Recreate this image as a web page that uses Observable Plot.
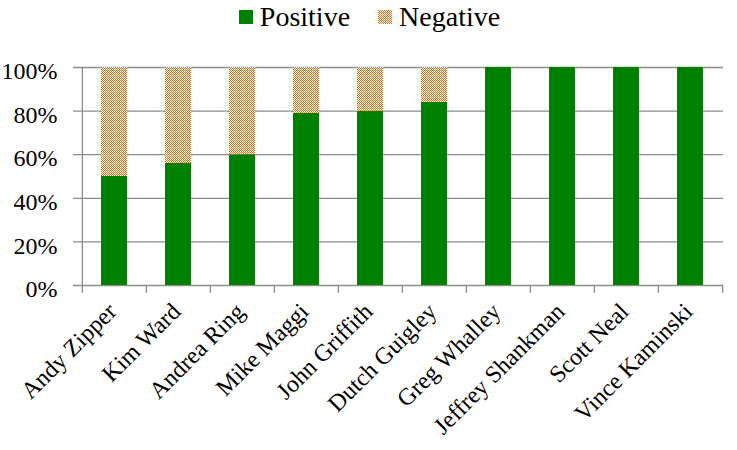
<!DOCTYPE html>
<html>
<head>
<meta charset="utf-8">
<script src="https://cdn.jsdelivr.net/npm/d3@7"></script>
<script src="https://cdn.jsdelivr.net/npm/@observablehq/plot@0.6"></script>
<style>
  html, body { margin: 0; padding: 0; background: #fff; }
  body { width: 737px; height: 450px; overflow: hidden; font-family: "Liberation Serif", serif; }
  #legend { height: 34px; display: flex; justify-content: center; align-items: center; font-size: 28px; color: #000; padding-left: 2px; box-sizing: border-box; }
  #legend .item { display: flex; align-items: center; }
  #legend svg { display: block; margin-right: 7px; }
  #legend .gap { width: 28px; }
  #chart svg g[aria-label="rect"] rect { filter: drop-shadow(0px 0px 1.5px rgba(0,0,0,0.35)); }
</style>
</head>
<body>
<svg width="0" height="0" style="position:absolute">
  <defs>
    <pattern id="neg" width="2" height="2" patternUnits="userSpaceOnUse">
      <rect width="2" height="2" fill="#ffffff"></rect>
      <rect x="0" y="0" width="1" height="1" fill="#f26b0c"></rect>
      <rect x="1" y="1" width="1" height="1" fill="#f26b0c"></rect>
    </pattern>
  </defs>
</svg>
<div id="legend"></div>
<div id="chart"></div>
<script>
const names = ["Andy Zipper", "Kim Ward", "Andrea Ring", "Mike Maggi", "John Griffith", "Dutch Guigley", "Greg Whalley", "Jeffrey Shankman", "Scott Neal", "Vince Kaminski"];
const positive = [50, 56, 60, 79, 80, 84, 100, 100, 100, 100];
const negative = [50, 44, 40, 21, 20, 16, 0, 0, 0, 0];
const yTicks = [0, 20, 40, 60, 80, 100];
const seriesNames = ["Positive", "Negative"];
const seriesFills = ["#008000", "url(#neg)"];

const rows = names.map((name, i) => ({name, positive: positive[i], negative: negative[i]}));

const W = 737, H = 416;
const mL = 80, mR = 14, mT = 33, mB = 165;
const step = (W - mL - mR) / names.length;
const grid = "#8c8c8c";

const legend = d3.select("#legend");
seriesNames.forEach((s, i) => {
  if (i > 0) legend.append("div").attr("class", "gap");
  const item = legend.append("div").attr("class", "item");
  item.append("svg").attr("width", 14).attr("height", 14)
    .append("rect").attr("width", 14).attr("height", 14).attr("fill", seriesFills[i]);
  item.append("span").text(s);
});

const chart = Plot.plot({
  width: W,
  height: H,
  marginLeft: mL,
  marginRight: mR,
  marginTop: mT,
  marginBottom: mB,
  style: {fontFamily: "'Liberation Serif', serif", background: "white", color: "black", overflow: "visible"},
  x: {domain: names, paddingInner: 0.6, paddingOuter: 0.3, axis: null},
  y: {domain: [0, 100], axis: null},
  marks: [
    Plot.ruleY(yTicks, {y: d => d, stroke: grid, strokeWidth: 1.3, insetLeft: -7}),
    Plot.ruleX([names[0]], {x: d => d, dx: -step / 2, y1: 100, y2: 0, insetBottom: -8, stroke: grid, strokeWidth: 1.3}),
    Plot.ruleX(names.slice(1), {x: d => d, dx: -step / 2, y1: 0, y2: 0, insetBottom: -8, stroke: grid, strokeWidth: 1.3}),
    Plot.ruleX([names[names.length - 1]], {x: d => d, dx: step / 2, y1: 0, y2: 0, insetBottom: -8, stroke: grid, strokeWidth: 1.3}),
    Plot.barY(rows, {x: "name", y1: 0, y2: "positive", fill: seriesFills[0]}),
    Plot.barY(rows.filter(d => d.negative > 0), {x: "name", y1: "positive", y2: d => d.positive + d.negative, fill: seriesFills[1]}),
    Plot.axisY(yTicks, {tickSize: 0, tickPadding: 23, tickFormat: d => d + "%", fontSize: 24, dy: 4, label: null}),
    Plot.axisX({tickSize: 0, tickRotate: -45, fontSize: 24, tickPadding: 14, dx: -2, dy: 8, label: null})
  ]
});
document.getElementById("chart").appendChild(chart);
</script>
</body>
</html>
